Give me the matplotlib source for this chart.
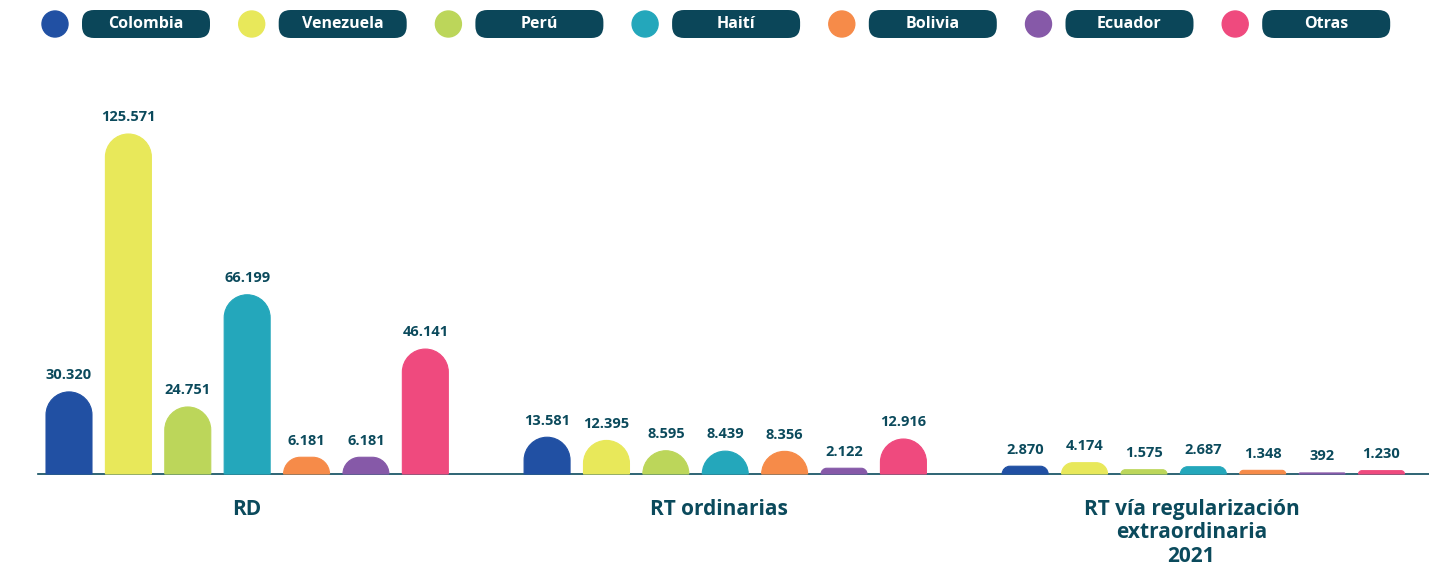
import matplotlib.pyplot as plt
from matplotlib.path import Path
from matplotlib.patches import PathPatch, FancyBboxPatch, Circle

plt.rcParams['font.family'] = ['Open Sans', 'DejaVu Sans']

paises = ['Colombia', 'Venezuela', 'Perú', 'Haití', 'Bolivia', 'Ecuador', 'Otras']
colores = ['#2150a3', '#e8e85a', '#bcd65a', '#24a7bb', '#f68b49', '#8659a8', '#ef4a7e']
grupos = ['RD', 'RT ordinarias', 'RT vía regularización\nextraordinaria\n2021']

rd = [30320, 125571, 24751, 66199, 6181, 6181, 46141]
rt_ord = [13581, 12395, 8595, 8439, 8356, 2122, 12916]
rt_extra = [2870, 4174, 1575, 2687, 1348, 392, 1230]
valores = [rd, rt_ord, rt_extra]

azul = '#0b4a5c'
W, H = 1429, 565
fig = plt.figure(figsize=(W / 100, H / 100), dpi=100)

# bars axes
ax = fig.add_axes([38 / W, 91 / H, 1391 / W, 374 / H])
paso_grupo = 8.05
ancho = 0.774
ax.set_xlim(-0.522, 22.9)
ax.set_ylim(0, 125571 * 374 / 340)

ppx = 1391 / (22.9 + 0.522)          # px per x unit
ppy = 374 / (125571 * 374 / 340)     # px per y unit
k = 0.5523


def barra(x, h, color):
    x0, x1 = x - ancho / 2, x + ancho / 2
    h_px = h * ppy
    r_px = min(ancho * ppx / 2, h_px)
    rx, ry = r_px / ppx, r_px / ppy
    verts = [(x0, 0), (x0, h - ry),
             (x0, h - ry + k * ry), (x0 + rx - k * rx, h), (x0 + rx, h),
             (x1 - rx, h),
             (x1 - rx + k * rx, h), (x1, h - ry + k * ry), (x1, h - ry),
             (x1, 0), (x0, 0)]
    codes = [Path.MOVETO, Path.LINETO,
             Path.CURVE4, Path.CURVE4, Path.CURVE4,
             Path.LINETO,
             Path.CURVE4, Path.CURVE4, Path.CURVE4,
             Path.LINETO, Path.CLOSEPOLY]
    ax.add_patch(PathPatch(Path(verts, codes), facecolor=color, edgecolor=color,
                           linewidth=0.8, zorder=3, clip_on=False))


centros = []
for g, vals in enumerate(valores):
    for i, v in enumerate(vals):
        x = g * paso_grupo + i
        barra(x, v, colores[i])
        ax.annotate(f'{v:,}'.replace(',', '.'), (x, v), xytext=(0, 7), textcoords='offset points',
                    ha='center', va='bottom', fontsize=10.5, fontweight='bold', color=azul)
    centros.append(g * paso_grupo + 3 - 0.1 * g)

ax.set_xticks(centros)
ax.set_xticklabels(grupos, fontsize=15, fontweight='bold', color=azul, linespacing=1.15)
ax.tick_params(axis='x', length=0, pad=18)
ax.set_yticks([])
for s in ['top', 'left', 'right']:
    ax.spines[s].set_visible(False)
ax.spines['bottom'].set_color(azul)
ax.spines['bottom'].set_linewidth(1.2)

# legend
lg = fig.add_axes([0, 0, 1, 1], zorder=-1)
lg.set_xlim(0, W)
lg.set_ylim(H, 0)
lg.axis('off')
for i, p in enumerate(paises):
    cx = 55 + i * 196.7
    lg.add_patch(Circle((cx, 24), 13, color=colores[i]))
    lg.add_patch(FancyBboxPatch((cx + 27, 10), 128, 28,
                                boxstyle='round,pad=0,rounding_size=12',
                                facecolor='#0b4659', edgecolor='none'))
    lg.text(cx + 91, 24.5, p, ha='center', va='center', color='white',
            fontsize=11.5, fontweight='bold')

fig.savefig('out.png', dpi=100)
